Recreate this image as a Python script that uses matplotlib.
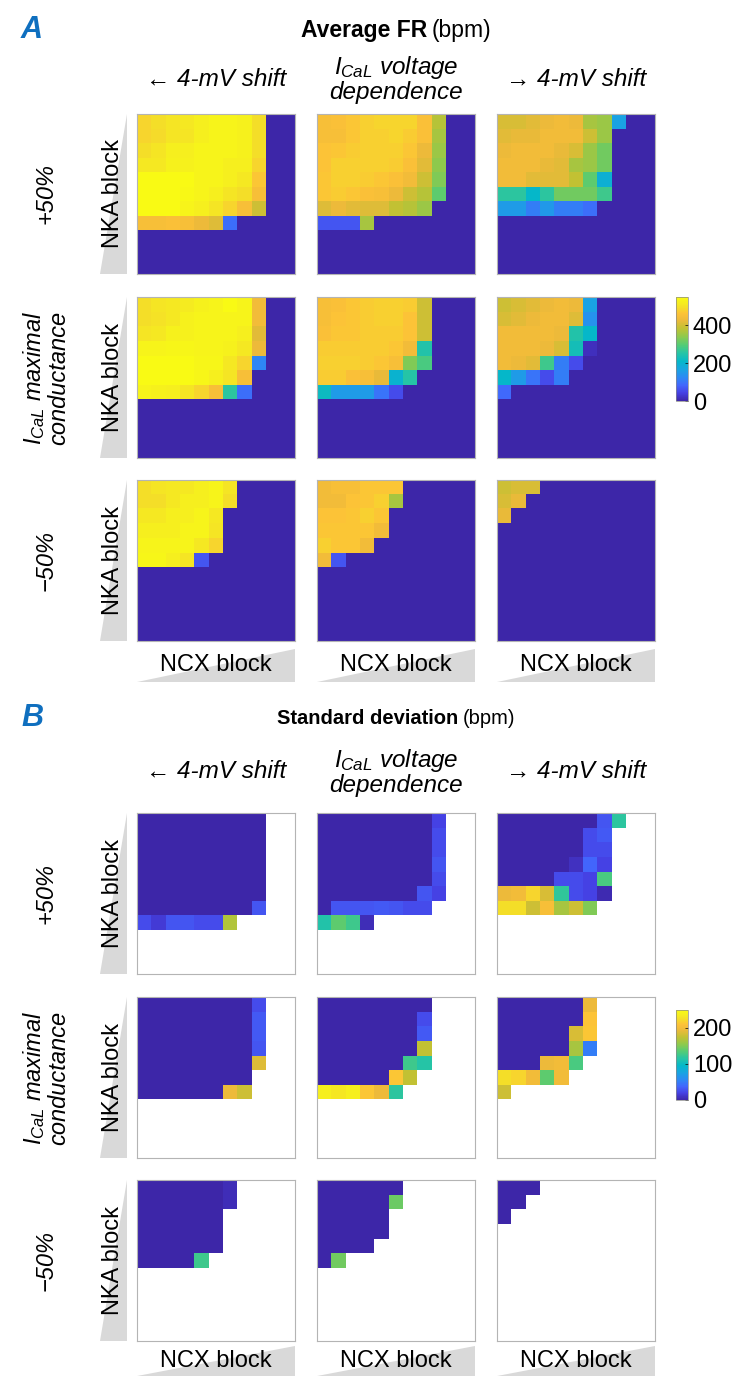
import numpy as np
import matplotlib
matplotlib.use('Agg')
import matplotlib.pyplot as plt
from matplotlib.colors import LinearSegmentedColormap
from matplotlib.patches import Polygon

plt.rcParams['font.family'] = ['Liberation Sans', 'DejaVu Sans']
plt.rcParams['mathtext.fontset'] = 'custom'
plt.rcParams['mathtext.it'] = 'Liberation Sans:italic'
plt.rcParams['mathtext.rm'] = 'Liberation Sans'

W, H = 737, 1376

# column / row headers
col_labels = ['\u2190 4-mV shift', '$I_{CaL}$ voltage\ndependence', '\u2192 4-mV shift']
row_labels = ['+50%', '$I_{CaL}$ maximal\nconductance', '\u221250%']
fr_ticks = [0, 200, 400]
sd_ticks = [0, 100, 200]
FR_MAX = 550
SD_MAX = 250

# Average FR (bpm), 11x11 grids, rows = NKA block, cols = NCX block (missing = 0)
fr_p50_neg = [
    [484, 495, 506, 512, 523, 534, 534, 528, 495],
    [484, 490, 506, 506, 523, 534, 534, 528, 495],
    [495, 506, 523, 523, 534, 534, 534, 528, 495],
    [512, 512, 528, 528, 534, 534, 523, 523, 484],
    [550, 550, 550, 550, 534, 534, 523, 512, 468],
    [550, 550, 550, 545, 534, 523, 506, 495, 451],
    [550, 550, 550, 534, 523, 506, 484, 451, 396],
    [451, 451, 457, 451, 429, 413, 94],
]
fr_p50_ctl = [
    [451, 457, 468, 479, 484, 484, 484, 457, 374],
    [451, 451, 468, 479, 479, 484, 473, 457, 363],
    [462, 468, 473, 479, 479, 479, 468, 429, 352],
    [462, 479, 479, 479, 479, 473, 457, 418, 341],
    [468, 479, 479, 473, 468, 457, 440, 396, 330],
    [468, 473, 468, 457, 451, 429, 396, 374, 303],
    [413, 429, 418, 413, 413, 385, 374, 352],
    [66, 66, 66, 363],
]
fr_p50_pos = [
    [407, 407, 418, 429, 440, 429, 363, 352, 165],
    [418, 424, 424, 440, 440, 440, 396, 352],
    [429, 440, 440, 440, 424, 407, 352, 319],
    [440, 440, 440, 424, 418, 363, 352, 319],
    [440, 440, 418, 418, 418, 385, 303, 193],
    [259, 259, 209, 259, 319, 319, 319, 275],
    [154, 154, 110, 149, 110, 110, 94],
]
fr_base_neg = [
    [495, 506, 512, 517, 528, 534, 550, 534, 440],
    [495, 501, 512, 528, 534, 534, 534, 534, 440],
    [506, 512, 528, 528, 534, 534, 534, 523, 418],
    [534, 534, 539, 539, 534, 534, 528, 512, 429],
    [550, 550, 550, 550, 539, 539, 512, 484, 121],
    [550, 550, 550, 550, 539, 523, 506, 451],
    [534, 528, 523, 506, 484, 451, 259, 94],
]
fr_base_ctl = [
    [451, 457, 468, 473, 479, 479, 473, 396],
    [451, 462, 468, 473, 479, 479, 462, 396],
    [457, 468, 468, 473, 473, 473, 462, 396],
    [473, 473, 473, 473, 473, 468, 440, 248],
    [479, 479, 479, 473, 468, 451, 330, 286],
    [473, 473, 457, 451, 424, 198, 253],
    [220, 154, 154, 154, 99, 55],
]
fr_base_pos = [
    [396, 407, 418, 429, 440, 429, 165],
    [407, 418, 429, 440, 440, 413, 138],
    [440, 440, 440, 440, 429, 248, 209],
    [440, 440, 440, 429, 407, 231, 17],
    [440, 429, 418, 275, 110, 55],
    [209, 154, 99, 55, 110],
    [88],
]
fr_m50_neg = [
    [495, 506, 512, 512, 523, 534, 506],
    [495, 495, 512, 523, 523, 534, 495],
    [512, 512, 523, 523, 534, 512],
    [523, 523, 523, 534, 534, 506],
    [534, 534, 534, 534, 512, 484],
    [539, 539, 523, 506, 66],
]
fr_m50_ctl = [
    [440, 451, 451, 468, 468, 468],
    [440, 440, 462, 468, 479, 363],
    [462, 462, 468, 479, 468],
    [468, 468, 468, 468, 440],
    [479, 468, 468, 440],
    [440, 66],
]
fr_m50_pos = [
    [396, 407, 407],
    [407, 424],
    [424],
]

# Standard deviation (bpm), missing = no beating (blank)
sd_p50_neg = [
    [0, 0, 0, 0, 0, 0, 0, 0, 0],
    [0, 0, 0, 0, 0, 0, 0, 0, 0],
    [0, 0, 0, 0, 0, 0, 0, 0, 0],
    [0, 0, 0, 0, 0, 0, 0, 0, 0],
    [0, 0, 0, 0, 0, 0, 0, 0, 0],
    [0, 0, 0, 0, 0, 0, 0, 0, 0],
    [0, 0, 0, 0, 0, 0, 0, 0, 30],
    [25, 15, 30, 30, 25, 25, 168],
]
sd_p50_ctl = [
    [0, 0, 0, 0, 0, 0, 0, 0, 20],
    [0, 0, 0, 0, 0, 0, 0, 0, 25],
    [0, 0, 0, 0, 0, 0, 0, 0, 25],
    [0, 0, 0, 0, 0, 0, 0, 0, 30],
    [0, 0, 0, 0, 0, 0, 0, 0, 25],
    [0, 0, 0, 0, 0, 0, 0, 30, 20],
    [0, 30, 30, 30, 32, 30, 25, 25],
    [113, 138, 125, 5],
]
sd_p50_pos = [
    [0, 0, 0, 0, 0, 0, 0, 30, 118],
    [0, 0, 0, 0, 0, 0, 25, 32],
    [0, 0, 0, 0, 0, 0, 25, 25],
    [0, 0, 0, 0, 0, 8, 38, 20],
    [0, 0, 0, 0, 25, 25, 20, 130],
    [195, 200, 220, 185, 120, 25, 20, 3],
    [225, 225, 180, 205, 165, 180, 150],
]
sd_base_neg = [
    [0, 0, 0, 0, 0, 0, 0, 0, 25],
    [0, 0, 0, 0, 0, 0, 0, 0, 32],
    [0, 0, 0, 0, 0, 0, 0, 0, 32],
    [0, 0, 0, 0, 0, 0, 0, 0, 30],
    [0, 0, 0, 0, 0, 0, 0, 0, 188],
    [0, 0, 0, 0, 0, 0, 0, 0],
    [0, 0, 0, 0, 0, 0, 195, 180],
]
sd_base_ctl = [
    [0, 0, 0, 0, 0, 0, 0, 0],
    [0, 0, 0, 0, 0, 0, 0, 25],
    [0, 0, 0, 0, 0, 0, 0, 32],
    [0, 0, 0, 0, 0, 0, 0, 175],
    [0, 0, 0, 0, 0, 0, 125, 115],
    [0, 0, 0, 0, 0, 212, 175],
    [238, 232, 238, 212, 195, 118],
]
sd_base_pos = [
    [0, 0, 0, 0, 0, 0, 195],
    [0, 0, 0, 0, 0, 0, 210],
    [0, 0, 0, 0, 0, 185, 212],
    [0, 0, 0, 0, 0, 165, 50],
    [0, 0, 0, 195, 200, 130],
    [225, 220, 200, 138, 200],
    [180],
]
sd_m50_neg = [
    [0, 0, 0, 0, 0, 0, 5],
    [0, 0, 0, 0, 0, 0, 5],
    [0, 0, 0, 0, 0, 0],
    [0, 0, 0, 0, 0, 0],
    [0, 0, 0, 0, 0, 0],
    [0, 0, 0, 0, 125],
]
sd_m50_ctl = [
    [0, 0, 0, 0, 0, 0],
    [0, 0, 0, 0, 0, 143],
    [0, 0, 0, 0, 0],
    [0, 0, 0, 0, 0],
    [0, 0, 0, 0],
    [0, 145],
]
sd_m50_pos = [
    [0, 0, 0],
    [0, 0],
    [0],
]

# approximate MATLAB parula
parula = LinearSegmentedColormap.from_list('parula', [
    (0.00, (0.242, 0.150, 0.660)),
    (0.08, (0.275, 0.260, 0.900)),
    (0.15, (0.260, 0.400, 0.990)),
    (0.22, (0.180, 0.530, 0.960)),
    (0.30, (0.100, 0.640, 0.890)),
    (0.38, (0.020, 0.720, 0.790)),
    (0.46, (0.150, 0.770, 0.650)),
    (0.54, (0.330, 0.800, 0.460)),
    (0.62, (0.560, 0.790, 0.300)),
    (0.70, (0.760, 0.760, 0.200)),
    (0.78, (0.930, 0.730, 0.230)),
    (0.84, (0.990, 0.760, 0.220)),
    (0.90, (0.960, 0.870, 0.160)),
    (0.95, (0.965, 0.935, 0.120)),
    (1.00, (0.977, 0.984, 0.080)),
])
parula.set_bad('white')

col_x = [(137, 295), (317, 475), (497, 655)]
rows_a = [(114, 274), (297, 458), (480, 641)]
rows_b = [(813, 974), (997, 1158), (1180, 1341)]


def grid(rows, fill):
    m = np.full((11, 11), fill, dtype=float)
    for i, r in enumerate(rows):
        m[i, :len(r)] = r
    return m


def add_ax(fig, x0, y0, x1, y1):
    return fig.add_axes([x0 / W, 1 - y1 / H, (x1 - x0) / W, (y1 - y0) / H])


def ftext(fig, x, y, s, **kw):
    kw.setdefault('ha', 'center')
    kw.setdefault('va', 'center')
    kw.setdefault('fontsize', 17)
    return fig.text(x / W, 1 - y / H, s, **kw)


def wedge(fig, pts):
    p = Polygon([(x / W, 1 - y / H) for x, y in pts], closed=True,
                transform=fig.transFigure, fc='#d9d9d9', ec='none', zorder=0.5)
    fig.patches.append(p)


def draw_block(fig, grids, fill, vmax, rows_y, letter, title_bold, title_y, title_size,
               bold_end, head_y, ncx_y, cbar_box, ticks):
    ftext(fig, 32, title_y, letter, fontsize=22, fontweight='bold',
          fontstyle='italic', color='#0f6fbf')
    ftext(fig, bold_end, title_y, title_bold, ha='right', fontweight='bold',
          fontsize=title_size)
    ftext(fig, bold_end + 5, title_y, '(bpm)', ha='left', fontsize=title_size)

    for j, (x0, x1) in enumerate(col_x):
        ftext(fig, (x0 + x1) / 2, head_y, col_labels[j], fontstyle='italic',
              linespacing=1.05, fontsize=17.5)

    im = None
    for i, (y0, y1) in enumerate(rows_y):
        ftext(fig, 46, (y0 + y1) / 2, row_labels[i], rotation=90,
              fontstyle='italic', linespacing=1.0)
        wedge(fig, [(127, y0), (127, y1), (100, y1)])
        ftext(fig, 113, (y0 + y1) / 2, 'NKA block', rotation=90, zorder=3)
        for j, (x0, x1) in enumerate(col_x):
            ax = add_ax(fig, x0, y0, x1, y1)
            im = ax.imshow(grid(grids[i][j], fill), cmap=parula, vmin=0, vmax=vmax,
                           aspect='auto', interpolation='nearest')
            ax.set_xticks([])
            ax.set_yticks([])
            for sp in ax.spines.values():
                sp.set_color('#b4b4b4')
                sp.set_linewidth(0.8)

    # ramp wedge under each NCX label, growing to the right
    for x0, x1 in col_x:
        wedge(fig, [(x0, ncx_y[1]), (x1, ncx_y[1]), (x1, ncx_y[0])])
        ftext(fig, (x0 + x1) / 2, (ncx_y[0] + ncx_y[1]) / 2, 'NCX block', zorder=3)

    cax = add_ax(fig, *cbar_box)
    cb = fig.colorbar(im, cax=cax, ticks=ticks)
    cb.outline.set_linewidth(0.5)
    cb.outline.set_edgecolor('#888888')
    cax.tick_params(labelsize=17, length=2, width=0.5, direction='in')


def main():
    fig = plt.figure(figsize=(W / 100, H / 100), dpi=100)

    fr = [[fr_p50_neg, fr_p50_ctl, fr_p50_pos],
          [fr_base_neg, fr_base_ctl, fr_base_pos],
          [fr_m50_neg, fr_m50_ctl, fr_m50_pos]]
    sd = [[sd_p50_neg, sd_p50_ctl, sd_p50_pos],
          [sd_base_neg, sd_base_ctl, sd_base_pos],
          [sd_m50_neg, sd_m50_ctl, sd_m50_pos]]

    draw_block(fig, fr, 0.0, FR_MAX, rows_a, 'A', 'Average FR', 30, 16.5, 427, 79,
               (649, 682), (676, 297, 688, 401), fr_ticks)
    draw_block(fig, sd, np.nan, SD_MAX, rows_b, 'B', 'Standard deviation', 718, 14.5, 458,
               772, (1346, 1376), (676, 1010, 688, 1100), sd_ticks)

    fig.savefig('out.png', dpi=100)
    plt.close(fig)


if __name__ == '__main__':
    main()
